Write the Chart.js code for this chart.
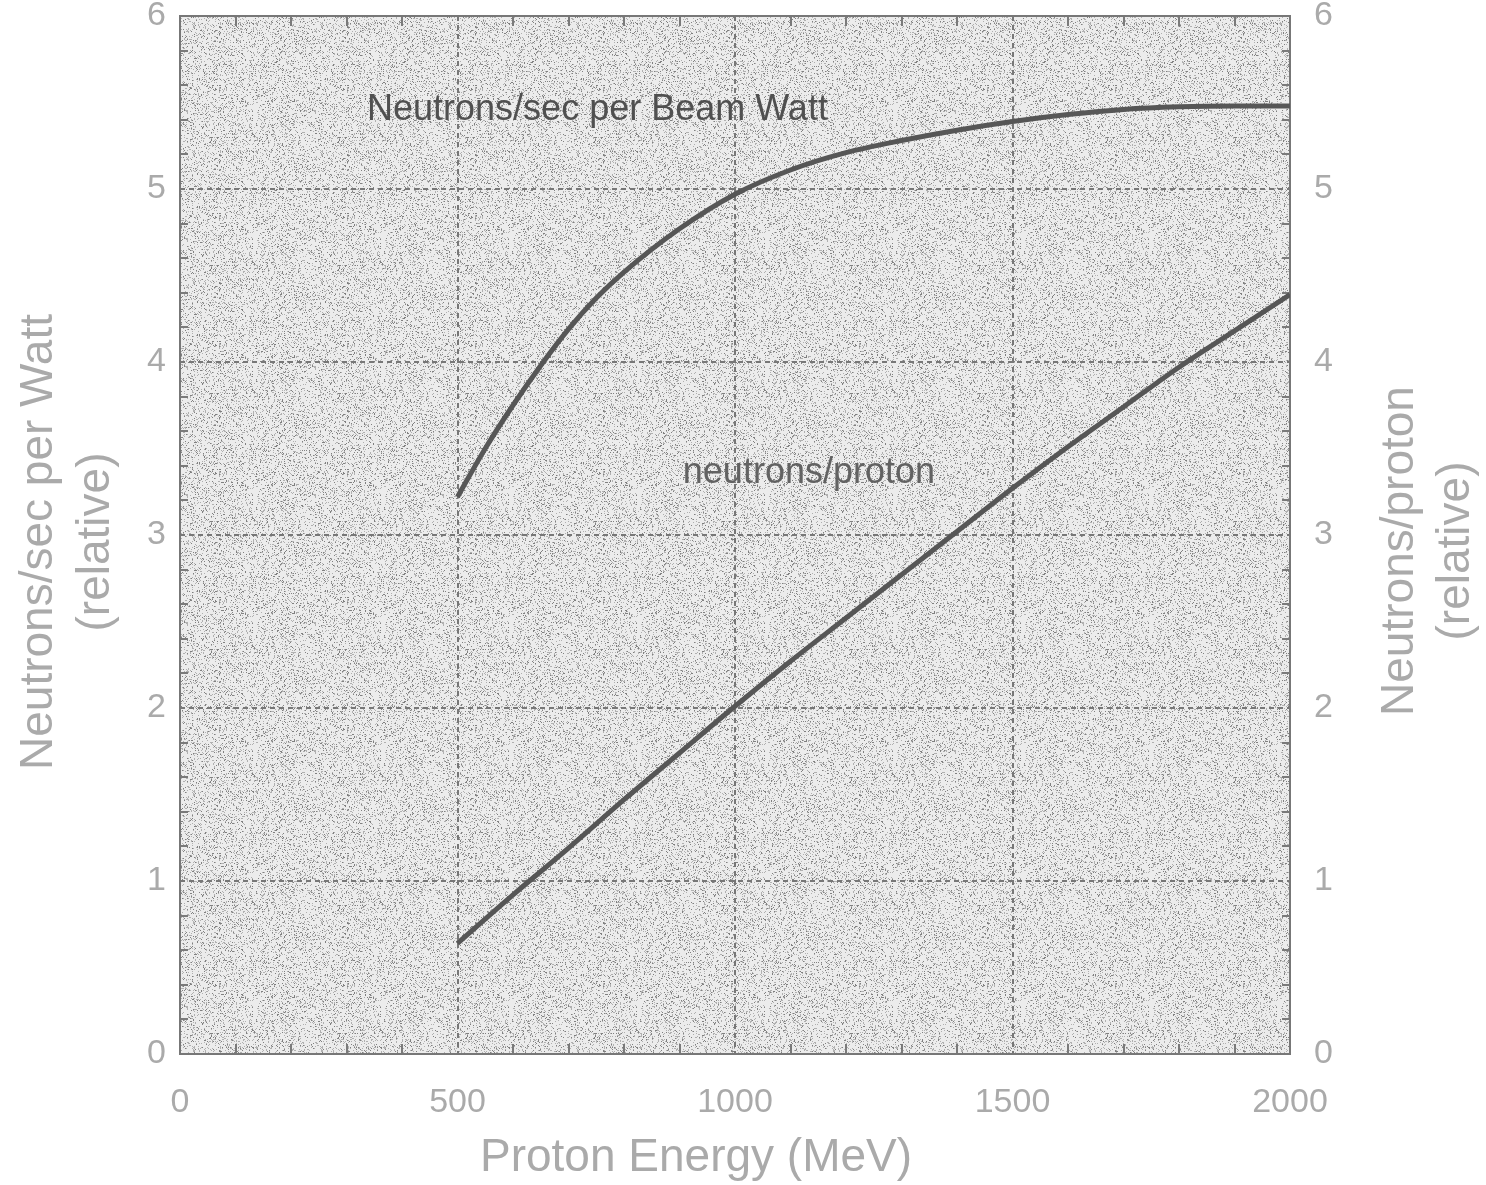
<!DOCTYPE html>
<html>
<head>
<meta charset="utf-8">
<script src="https://cdn.jsdelivr.net/npm/chart.js@4/dist/chart.umd.min.js"></script>
<style>
  html, body { margin: 0; padding: 0; background: #fff; }
  #wrap { width: 1486px; height: 1185px; }
</style>
</head>
<body>
<div id="wrap"><canvas id="chart" width="1486" height="1185"></canvas></div>
<script>
// neutron yield vs proton energy
const energyWatt = [500, 550, 600, 650, 700, 750, 800, 900, 1000, 1100, 1200, 1300, 1400, 1500, 1600, 1700, 1800, 1900, 2000];
const perWatt = [3.22, 3.50, 3.75, 3.98, 4.19, 4.37, 4.52, 4.77, 4.97, 5.11, 5.21, 5.28, 5.34, 5.39, 5.43, 5.46, 5.475, 5.48, 5.48];

const energyProton = [500, 600, 700, 800, 900, 1000, 1100, 1200, 1300, 1400, 1500, 1600, 1700, 1800, 1900, 2000];
const perProton = [0.64, 0.92, 1.19, 1.47, 1.74, 2.01, 2.27, 2.52, 2.77, 3.02, 3.27, 3.51, 3.74, 3.97, 4.18, 4.39];

const xTicks = [0, 500, 1000, 1500, 2000];
const yTicks = [0, 1, 2, 3, 4, 5, 6];

const curveLabels = [
    { text: 'Neutrons/sec per Beam Watt', x: 337, y: 5.40, color: '#505050' },
    { text: 'neutrons/proton', x: 906, y: 3.30, color: '#626262' }
];

const FONT = '"Liberation Sans", Arial, sans-serif';
const LABEL_GRAY = '#aaaaaa';

// grainy gray fill for the plot area
function makeStipple() {
    const c = document.createElement('canvas');
    c.width = 128; c.height = 128;
    const g = c.getContext('2d');
    g.fillStyle = '#ececec';
    g.fillRect(0, 0, 128, 128);
    let s = 12345;
    const next = () => { s = (s * 1103515245 + 12345) & 0x7fffffff; return s / 0x7fffffff; };
    for (let y = 0; y < 128; y++) {
        for (let x = 0; x < 128; x++) {
            const r = next();
            if (r < 0.2) {
                g.fillStyle = r < 0.06 ? '#808080' : '#b0b0b0';
                g.fillRect(x, y, 1, 1);
            }
        }
    }
    return c;
}

const frame = {
    id: 'frame',
    beforeDraw(chart) {
        const { ctx, chartArea: a } = chart;
        ctx.save();
        ctx.fillStyle = '#fff';
        ctx.fillRect(0, 0, chart.width, chart.height);
        ctx.fillStyle = ctx.createPattern(makeStipple(), 'repeat');
        ctx.fillRect(a.left, a.top, a.right - a.left, a.bottom - a.top);
        ctx.restore();
    },
    beforeDatasetsDraw(chart) {
        const { ctx, chartArea: a, scales } = chart;
        const xs = scales.x, ys = scales.y;
        ctx.save();

        // dashed grid at the major ticks
        ctx.strokeStyle = '#777';
        ctx.lineWidth = 2;
        ctx.setLineDash([5, 4]);
        xTicks.slice(1, -1).forEach(v => {
            const px = Math.round(xs.getPixelForValue(v));
            ctx.beginPath(); ctx.moveTo(px, a.top); ctx.lineTo(px, a.bottom); ctx.stroke();
        });
        yTicks.slice(1, -1).forEach(v => {
            const py = Math.round(ys.getPixelForValue(v));
            ctx.beginPath(); ctx.moveTo(a.left, py); ctx.lineTo(a.right, py); ctx.stroke();
        });
        ctx.setLineDash([]);

        // minor ticks pointing inward
        ctx.strokeStyle = '#7a7a7a';
        ctx.lineWidth = 2;
        for (let v = 100; v < 2000; v += 100) {
            if (v % 500 === 0) continue;
            const px = Math.round(xs.getPixelForValue(v));
            ctx.beginPath();
            ctx.moveTo(px, a.bottom); ctx.lineTo(px, a.bottom - 10);
            ctx.moveTo(px, a.top); ctx.lineTo(px, a.top + 10);
            ctx.stroke();
        }
        for (let i = 1; i < 30; i++) {
            if (i % 5 === 0) continue;
            const py = Math.round(ys.getPixelForValue(i * 0.2));
            ctx.beginPath();
            ctx.moveTo(a.left, py); ctx.lineTo(a.left + 8, py);
            ctx.moveTo(a.right, py); ctx.lineTo(a.right - 8, py);
            ctx.stroke();
        }

        ctx.strokeStyle = '#777';
        ctx.lineWidth = 2;
        ctx.strokeRect(a.left, a.top, a.right - a.left, a.bottom - a.top);
        ctx.restore();
    },
    afterDraw(chart) {
        const { ctx, scales } = chart;
        ctx.save();

        // curve captions
        ctx.font = '36px ' + FONT;
        ctx.textBaseline = 'alphabetic';
        ctx.textAlign = 'left';
        curveLabels.forEach(l => {
            ctx.fillStyle = l.color;
            ctx.fillText(l.text, scales.x.getPixelForValue(l.x), scales.y.getPixelForValue(l.y));
        });

        // axis titles
        ctx.fillStyle = LABEL_GRAY;
        ctx.font = '46px ' + FONT;
        ctx.textAlign = 'center';
        ctx.textBaseline = 'middle';
        ctx.fillText('Proton Energy (MeV)', 696, 1158);

        const vertical = (lines, cy) => {
            lines.forEach(([t, cx]) => {
                ctx.save();
                ctx.translate(cx, cy);
                ctx.rotate(-Math.PI / 2);
                ctx.fillText(t, 0, 0);
                ctx.restore();
            });
        };
        vertical([['Neutrons/sec per Watt', 39], ['(relative)', 96]], 542);
        vertical([['Neutrons/proton', 1400], ['(relative)', 1456]], 551);
        ctx.restore();
    }
};

const tickFont = { family: FONT, size: 34 };
const plain = v => String(v);
const noPad = s => { s.paddingTop = 0; s.paddingBottom = 0; s.paddingLeft = 0; s.paddingRight = 0; };

new Chart(document.getElementById('chart'), {
    type: 'line',
    data: {
        datasets: [
            {
                label: 'Neutrons/sec per Beam Watt',
                data: energyWatt.map((e, i) => ({ x: e, y: perWatt[i] })),
                yAxisID: 'y',
                borderColor: '#565656',
                borderWidth: 5,
                pointRadius: 0,
                cubicInterpolationMode: 'monotone'
            },
            {
                label: 'neutrons/proton',
                data: energyProton.map((e, i) => ({ x: e, y: perProton[i] })),
                yAxisID: 'y2',
                borderColor: '#565656',
                borderWidth: 5,
                pointRadius: 0,
                cubicInterpolationMode: 'monotone'
            }
        ]
    },
    options: {
        responsive: false,
        animation: false,
        layout: { padding: { top: 16, left: 0, right: 0, bottom: 0 } },
        plugins: {
            legend: { display: false },
            tooltip: { enabled: false }
        },
        scales: {
            x: {
                type: 'linear',
                min: 0,
                max: 2000,
                afterBuildTicks: s => { s.ticks = xTicks.map(v => ({ value: v })); },
                afterFit: s => { s.height = 131; noPad(s); },
                grid: { display: false, drawTicks: false },
                border: { display: false },
                ticks: { color: LABEL_GRAY, font: tickFont, padding: 28, maxRotation: 0, autoSkip: false, callback: plain }
            },
            y: {
                position: 'left',
                min: 0,
                max: 6,
                afterBuildTicks: s => { s.ticks = yTicks.map(v => ({ value: v })); },
                afterFit: s => { s.width = 180; noPad(s); },
                grid: { display: false, drawTicks: false },
                border: { display: false },
                ticks: { color: LABEL_GRAY, font: tickFont, padding: 14, callback: plain }
            },
            y2: {
                position: 'right',
                min: 0,
                max: 6,
                afterBuildTicks: s => { s.ticks = yTicks.map(v => ({ value: v })); },
                afterFit: s => { s.width = 196; noPad(s); },
                grid: { display: false, drawTicks: false },
                border: { display: false },
                ticks: { color: LABEL_GRAY, font: tickFont, padding: 24, callback: plain }
            }
        }
    },
    plugins: [frame]
});
</script>
</body>
</html>
